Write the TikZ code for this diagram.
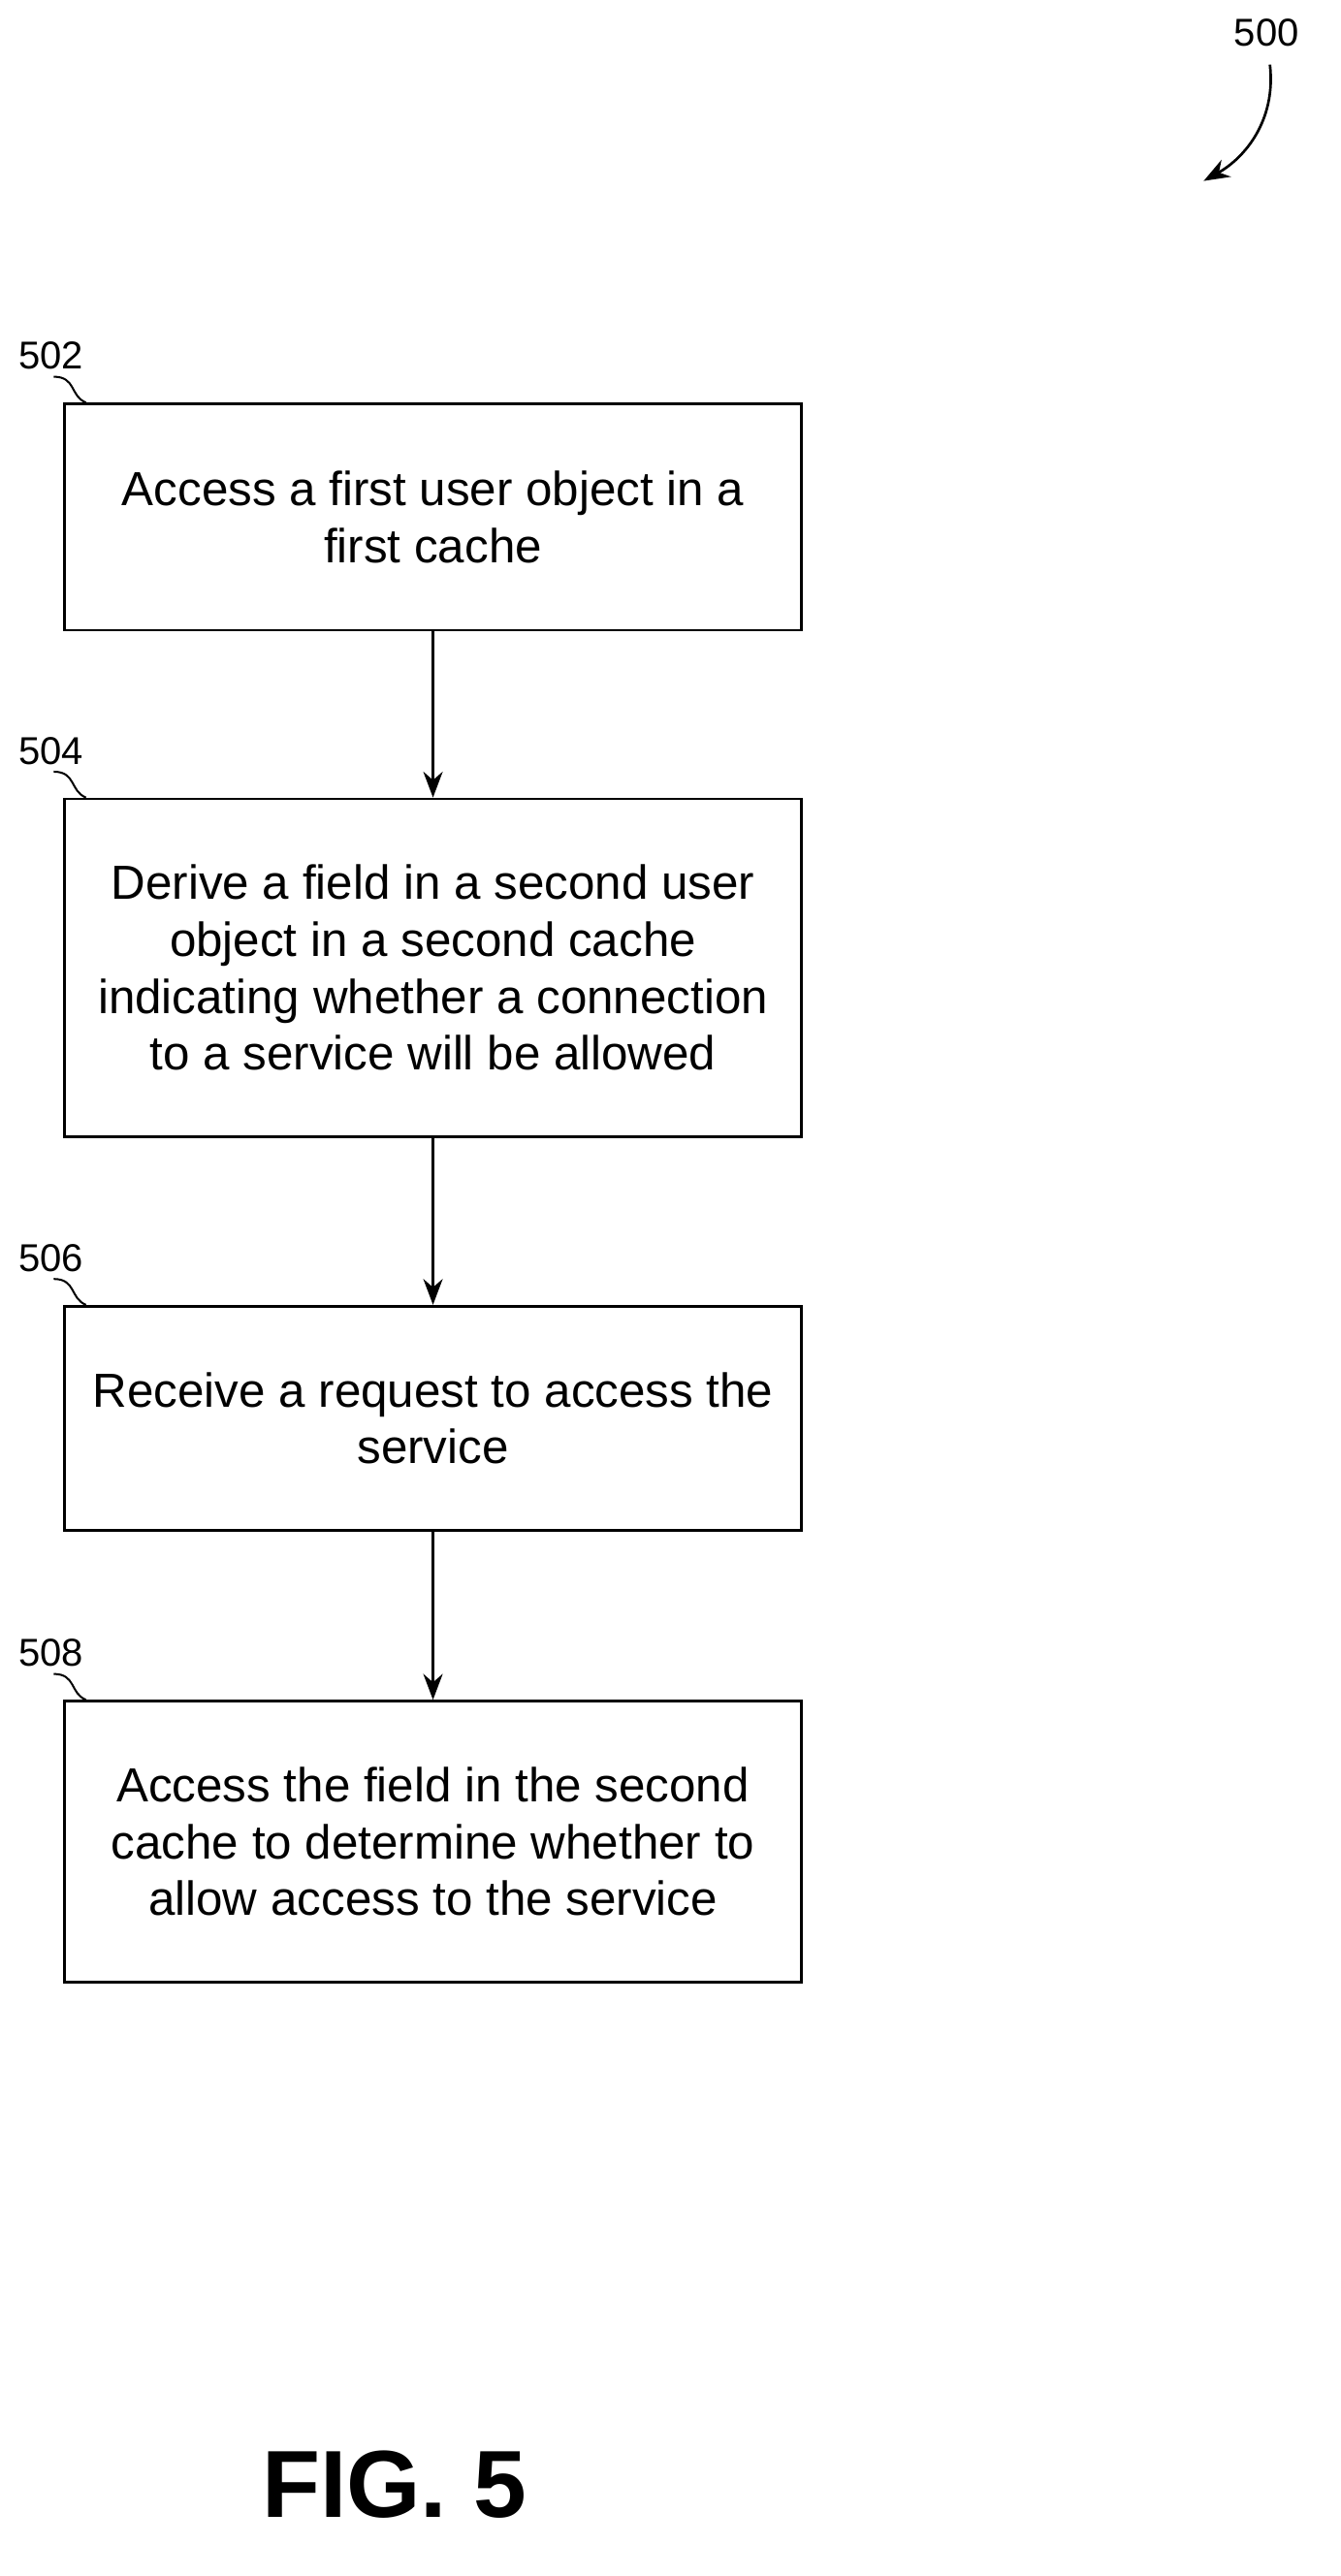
\documentclass[tikz,border=0pt]{standalone}
\usepackage{fontspec}
\setmainfont{Liberation Sans}
\usetikzlibrary{arrows.meta}
\begin{document}
\begin{tikzpicture}[x=0.5pt,y=-0.5pt,
  box/.style={draw,line width=0.8pt,minimum width=228pt,align=center,font=\fontsize{14.8}{17.6}\selectfont,inner sep=0pt},
  lab/.style={font=\fontsize{12}{14}\selectfont,anchor=south west,inner sep=0pt},
  arr/.style={-{Stealth[length=8pt,width=6pt]},line width=0.8pt},
  sq/.style={line width=0.6pt}]
\useasboundingbox (0,0) rectangle (830,1594.6);
\node[box,minimum height=70pt] (b1) at (268,320) {Access a first user object in a\\first cache};
\node[box,minimum height=104.5pt] (b2) at (268,599) {Derive a field in a second user\\object in a second cache\\indicating whether a connection\\to a service will be allowed};
\node[box,minimum height=69.5pt] (b3) at (268,878) {Receive a request to access the\\service};
\node[box,minimum height=87pt] (b4) at (268,1140) {Access the field in the second\\cache to determine whether to\\allow access to the service};
\draw[arr] (b1) -- (b2);
\draw[arr] (b2) -- (b3);
\draw[arr] (b3) -- (b4);
\foreach \n/\t in {b1/502,b2/504,b3/506,b4/508}{
  \node[lab] (l\n) at ([xshift=-14pt,yshift=10pt]\n.north west) {\t};
  \draw[sq] ([xshift=11pt,yshift=-2pt]l\n.south west) .. controls +(14,0) and +(-10,-4) .. ([xshift=7pt]\n.north west);
}
\node[font=\fontsize{12}{14}\selectfont] (l500) at (784,20) {500};
\coordinate (a500) at (745,112);
\draw[arr] (786,40) .. controls (790,75) and (770,98) .. (a500);
\node[font=\bfseries\fontsize{29.5}{32}\selectfont] (fig) at (244,1538) {FIG. 5};
\end{tikzpicture}
\end{document}
